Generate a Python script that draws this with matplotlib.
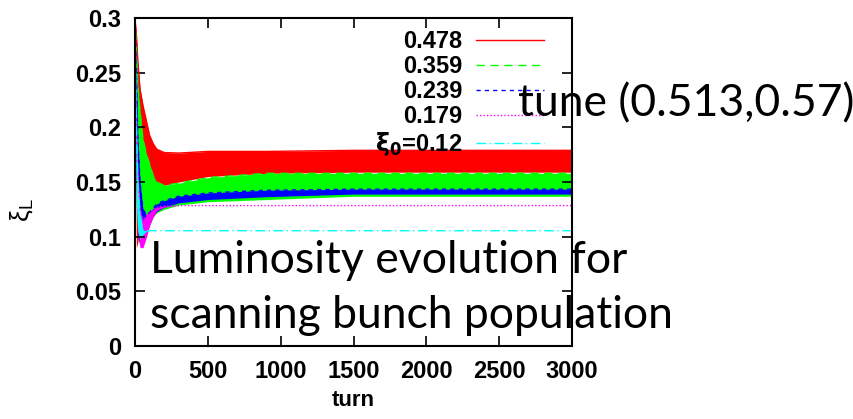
import matplotlib
matplotlib.use("Agg")
from matplotlib import pyplot as plt
from matplotlib.lines import Line2D

turns = [0, 10, 20, 35, 55, 80, 100, 125, 150, 200, 300, 500, 900, 1500, 3000]

# upper / lower envelope of the oscillating luminosity xi_L for each bunch population
red_hi = [0.30, 0.285, 0.26, 0.235, 0.22, 0.205, 0.193, 0.185, 0.180, 0.177, 0.1765, 0.178, 0.178, 0.179, 0.179]
red_lo = [0.30, 0.09, 0.095, 0.11, 0.12, 0.13, 0.138, 0.142, 0.145, 0.147, 0.150, 0.155, 0.158, 0.159, 0.159]
green_hi = [0.30, 0.27, 0.24, 0.215, 0.19, 0.175, 0.167, 0.156, 0.150, 0.147, 0.149, 0.154, 0.158, 0.158, 0.158]
green_lo = [0.30, 0.13, 0.10, 0.093, 0.097, 0.104, 0.11, 0.118, 0.122, 0.125, 0.129, 0.132, 0.134, 0.137, 0.137]
blue_hi = [0.30, 0.25, 0.19, 0.15, 0.125, 0.12, 0.122, 0.126, 0.130, 0.133, 0.137, 0.140, 0.1425, 0.1435, 0.1435]
blue_lo = [0.30, 0.15, 0.10, 0.092, 0.10, 0.11, 0.115, 0.119, 0.123, 0.127, 0.131, 0.134, 0.1366, 0.139, 0.139]
mag_hi = [0.30, 0.22, 0.16, 0.125, 0.115, 0.12, 0.123, 0.125, 0.127, 0.128, 0.1285, 0.1285, 0.1285, 0.1285, 0.1285]
mag_lo = [0.30, 0.14, 0.105, 0.09, 0.09, 0.100, 0.110, 0.118, 0.124, 0.127, 0.1285, 0.1285, 0.1285, 0.1285, 0.1285]
cyan_hi = [0.30, 0.20, 0.15, 0.12, 0.106, 0.1055, 0.1055, 0.1055, 0.1055, 0.1055, 0.1055, 0.1055, 0.1055, 0.1055, 0.1055]
cyan_lo = [0.30, 0.13, 0.105, 0.098, 0.102, 0.105, 0.1055, 0.1055, 0.1055, 0.1055, 0.1055, 0.1055, 0.1055, 0.1055, 0.1055]

labels = ["0.478", "0.359", "0.239", "0.179", r"$\mathbf{\xi_0}$=0.12"]
colors = ["#ff0000", "#00ff00", "#0000ff", "#ff00ff", "#00ffff"]
styles = ["-", (0, (6, 4)), (0, (3, 3)), (0, (1, 1.5)), (0, (7, 2.5, 1, 2.5))]

xticks = [0, 500, 1000, 1500, 2000, 2500, 3000]
yticks = [0, 0.05, 0.1, 0.15, 0.2, 0.25, 0.3]
yticklabels = ["0", "0.05", "0.1", "0.15", "0.2", "0.25", "0.3"]

plt.rcParams['font.family'] = ['Liberation Sans', 'DejaVu Sans']
plt.rcParams['font.weight'] = 'bold'
plt.rcParams['mathtext.default'] = 'regular'

fig = plt.figure(figsize=(8.54, 4.19), dpi=100)
ax = fig.add_axes([0.158, 0.174, 0.512, 0.783])

bands = [(red_hi, red_lo), (green_hi, green_lo), (blue_hi, blue_lo),
         (mag_hi, mag_lo), (cyan_hi, cyan_lo)]
for (hi, lo), c, ls in zip(bands, colors, styles):
  ax.fill_between(turns, lo, hi, color=c, linewidth=0)
  ax.plot(turns, hi, color=c, linestyle=ls, linewidth=1.0)

ax.set_xlim(0, 3000)
ax.set_ylim(0, 0.3)
ax.set_xticks(xticks)
ax.set_yticks(yticks)
ax.set_yticklabels(yticklabels)
ax.tick_params(direction='in', length=7, width=1.2, top=True, right=True,
               labelsize=17, pad=10)
for s in ax.spines.values():
  s.set_linewidth(1.5)

ax.set_xlabel("turn", fontsize=16, fontweight='bold')
ax.xaxis.set_label_coords(0.5, -0.135)
ax.set_ylabel(r"$\xi_L$", fontsize=19)
ax.yaxis.set_label_coords(-0.228, 0.415)

handles = [Line2D([], [], color=c, linestyle=ls, linewidth=1.0) for c, ls in zip(colors, styles)]
ax.legend(handles, labels, loc='upper right', bbox_to_anchor=(0.935, 0.962),
          frameon=False, markerfirst=False, fontsize=17, handlelength=2.85,
          handletextpad=0.6, labelspacing=0.08, borderpad=0, borderaxespad=0)

# overlaid slide annotations
big = dict(family=['Lato', 'DejaVu Sans'], fontweight='normal', fontsize=32, color='black')
fig.text(518 / 854, 1 - 116 / 419, "tune (0.513,0.57)", ha='left', va='baseline', **big)
fig.text(150 / 854, 1 - 273 / 419, "Luminosity evolution for", ha='left', va='baseline', **big)
fig.text(150 / 854, 1 - 328 / 419, "scanning bunch population", ha='left', va='baseline', **big)

fig.savefig("out.png", dpi=100)
